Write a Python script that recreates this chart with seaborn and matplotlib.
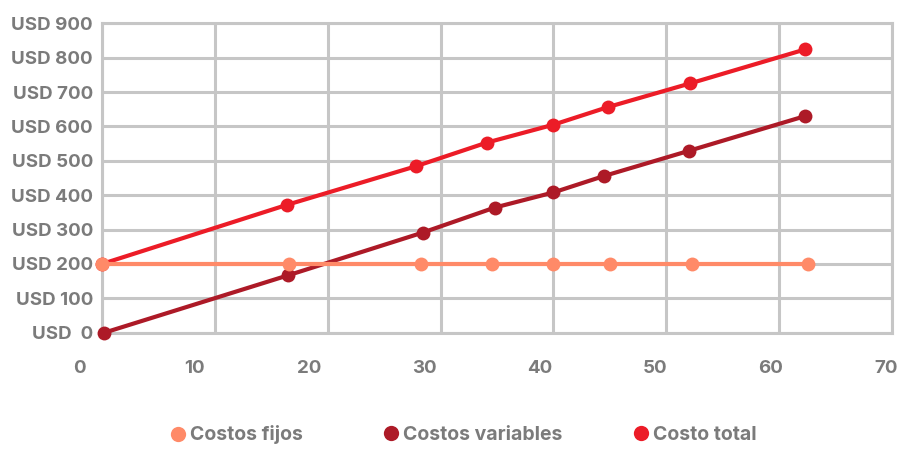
import numpy as np
import pandas as pd
import matplotlib
matplotlib.use("Agg")
import matplotlib.pyplot as plt
import matplotlib.transforms as mtransforms
import seaborn as sns

# Units produced (x) and cost for each series (y, USD)
fijos_x = [0.0, 16.6, 28.3, 34.6, 40.0, 45.0, 52.3, 62.6]
fijos_y = [200, 200, 200, 200, 200, 200, 200, 200]

variables_x = [0.2, 16.5, 28.4, 34.8, 40.0, 44.5, 52.0, 62.3]
variables_y = [0, 167, 291, 364, 408, 456, 529, 630]

total_x = [0.0, 16.4, 27.8, 34.1, 40.0, 44.8, 52.1, 62.3]
total_y = [200, 372, 484, 553, 605, 656, 725, 824]

series_names = ["Costos fijos", "Costos variables", "Costo total"]
series_colors = ["#FF8A68", "#AD1A27", "#EC1C27"]

x_ticks = [0, 10, 20, 30, 40, 50, 60, 70]
y_ticks = [0, 100, 200, 300, 400, 500, 600, 700, 800, 900]
y_labels = ["USD  0", "USD 100", "USD 200", "USD 300", "USD 400",
            "USD 500", "USD 600", "USD 700", "USD 800", "USD 900"]

frames = []
for name, xs, ys in zip(series_names,
                        [fijos_x, variables_x, total_x],
                        [fijos_y, variables_y, total_y]):
    frames.append(pd.DataFrame({"unidades": xs, "costo": ys, "serie": name}))
df = pd.concat(frames, ignore_index=True)

sns.set_theme(style="white")
plt.rcParams["font.family"] = ["Inter", "DejaVu Sans"]

text_color = "#7B7B7B"
grid_color = "#C6C6C6"
font_size = 13.5

fig = plt.figure(figsize=(9.04, 4.49), dpi=100)
ax = fig.add_axes([102 / 904, 1 - 332.7 / 449, 790 / 904, 309.4 / 449])

sns.lineplot(data=df, x="unidades", y="costo", hue="serie",
             hue_order=series_names, palette=series_colors,
             estimator=None, sort=False, marker="o", markersize=10,
             markeredgewidth=0, linewidth=3, legend=False, ax=ax, zorder=3)
for line in ax.lines:
    line.set_clip_on(False)
# fixed-cost line sits on top of the other two
ax.lines[0].set_zorder(5)

ax.set_xlim(0, 70)
ax.set_ylim(0, 900)
ax.set_xticks(x_ticks)
ax.set_yticks(y_ticks)
ax.set_yticklabels(y_labels)
ax.set_xticklabels([])
ax.set_xlabel("")
ax.set_ylabel("")
ax.grid(True, color=grid_color, linewidth=2.2)
ax.set_axisbelow(True)
for sp in ax.spines.values():
    sp.set_visible(True)
    sp.set_color(grid_color)
    sp.set_linewidth(2.2)
ax.tick_params(axis="both", length=0)
ax.tick_params(axis="y", pad=6.5, labelsize=font_size, labelcolor=text_color)
for lab in ax.get_yticklabels():
    lab.set_fontweight("bold")

# The unit labels run on a slightly wider scale than the grid
def from_label(v):
    return np.asarray(v) * 1.0216 - 2.04

label_trans = mtransforms.blended_transform_factory(ax.transData, ax.transAxes)
for t in x_ticks:
    ax.text(from_label(t), -35.5 / 309.4, str(t), transform=label_trans,
            ha="center", va="center", fontsize=font_size, fontweight="bold",
            color=text_color, clip_on=False)

# One legend entry per series, laid out along the bottom
legend_left = [150.5, 363.5, 613.5]
for name, color, left in zip(series_names, series_colors, legend_left):
    handle = plt.Line2D([], [], linestyle="none", marker="o", markersize=11,
                        markeredgewidth=0, color=color)
    leg = fig.legend([handle], [name], loc="center left",
                     bbox_to_anchor=(left / 904, 1 - 435 / 449), frameon=False,
                     handletextpad=0.12, handlelength=1.0,
                     prop={"weight": "bold", "size": 14})
    for t in leg.get_texts():
        t.set_color(text_color)

fig.savefig("out.png", dpi=100)
